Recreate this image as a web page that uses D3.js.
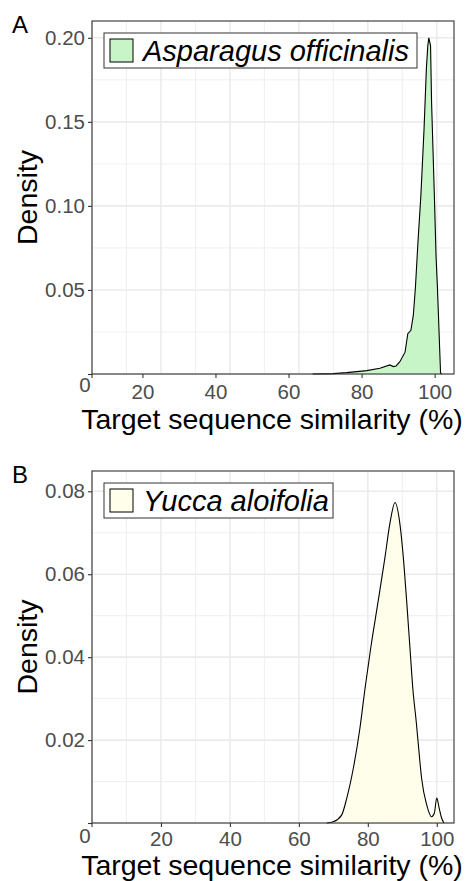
<!DOCTYPE html>
<html>
<head>
<meta charset="utf-8">
<script src="https://cdn.jsdelivr.net/npm/d3@7"></script>
<style>
  body { margin: 0; background: #fff; }
  text { font-family: "Liberation Sans", Arial, sans-serif; }
</style>
</head>
<body>
<svg id="fig" width="471" height="881"></svg>
<script>
// Density curve of panel A (Asparagus officinalis)
var asparagusX = [0, 64, 69.9, 73.9, 79.7, 83.5, 86.4, 87.4, 88.2, 89.3, 90.8, 91.6, 92.5, 93.2, 93.8, 94.5, 95.4, 96.3, 97.0, 97.4, 97.7, 98.2, 98.5, 99.3, 99.8, 100.2, 101.1, 101.4];
var asparagusDensity = [0, 0, 0.0002, 0.0008, 0.002, 0.0034, 0.0054, 0.0044, 0.0048, 0.0073, 0.013, 0.024, 0.026, 0.035, 0.0512, 0.0768, 0.1065, 0.1452, 0.1821, 0.1952, 0.2, 0.1952, 0.1613, 0.1065, 0.0696, 0.0512, 0.0006, 0];

// Density curve of panel B (Yucca aloifolia)
var yuccaX = [0, 68.1, 70.0, 72.4, 73.9, 75.8, 77.7, 79.2, 80.9, 83.0, 85.0, 86.4, 87.9, 89.3, 90.6, 91.4, 92.2, 93.1, 94.1, 94.7, 95.6, 97.1, 98.5, 99.3, 100.0, 100.7, 101.4, 102.1];
var yuccaDensity = [0, 0, 0.0003, 0.0019, 0.006, 0.0132, 0.0228, 0.0325, 0.0425, 0.0535, 0.0642, 0.0722, 0.0773, 0.0722, 0.061, 0.052, 0.0425, 0.032, 0.024, 0.0185, 0.0108, 0.0043, 0.0015, 0.0024, 0.006, 0.0036, 0.0012, 0];

// Tick labels
var xTicks = [20, 40, 60, 80, 100];
var yTicksA = [0.05, 0.10, 0.15, 0.20];
var yTicksB = [0.02, 0.04, 0.06, 0.08];

var svg = d3.select("#fig");

var left = 92, right = 454;
var tickFont = 20.5, titleFont = 28.5;

function drawPanel(o) {
  var x = d3.scaleLinear().domain([0, 105]).range([left, right]);
  var y = d3.scaleLinear().domain([0, o.yMax]).range([o.bottom, o.top]);
  var g = svg.append("g");

  // grid: minor then major
  var ys = o.yTicks[1] - o.yTicks[0];
  var yMinor = d3.range(ys / 2, o.yMax, ys);
  var yMajor = d3.range(0, o.yMax + 1e-9, ys);
  var xMinor = d3.range(10, 105, 20);
  var xMajor = [0].concat(xTicks);

  g.selectAll(".ymin").data(yMinor).enter().append("line")
    .attr("x1", left).attr("x2", right)
    .attr("y1", d => y(d)).attr("y2", d => y(d))
    .attr("stroke", "#ebebeb").attr("stroke-width", 0.8);
  g.selectAll(".xmin").data(xMinor).enter().append("line")
    .attr("x1", d => x(d)).attr("x2", d => x(d))
    .attr("y1", o.top).attr("y2", o.bottom)
    .attr("stroke", "#ebebeb").attr("stroke-width", 0.8);
  g.selectAll(".ymaj").data(yMajor).enter().append("line")
    .attr("x1", left).attr("x2", right)
    .attr("y1", d => y(d)).attr("y2", d => y(d))
    .attr("stroke", "#ebebeb").attr("stroke-width", 1.6);
  g.selectAll(".xmaj").data(xMajor).enter().append("line")
    .attr("x1", d => x(d)).attr("x2", d => x(d))
    .attr("y1", o.top).attr("y2", o.bottom)
    .attr("stroke", "#ebebeb").attr("stroke-width", 1.6);

  // density area + outline
  var pts = o.xs.map((v, i) => [v, o.ds[i]]);
  var area = d3.area()
    .x(d => x(d[0])).y0(y(0)).y1(d => y(d[1]))
    .curve(o.curve);
  var line = d3.line()
    .x(d => x(d[0])).y(d => y(d[1]))
    .curve(o.curve);
  g.append("path").attr("d", area(pts)).attr("fill", o.fill);
  g.append("path").attr("d", line(pts.slice(1))).attr("fill", "none")
    .attr("stroke", "#000").attr("stroke-width", 1.1);

  // panel border
  g.append("rect")
    .attr("x", left).attr("y", o.top)
    .attr("width", right - left).attr("height", o.bottom - o.top)
    .attr("fill", "none").attr("stroke", "#333").attr("stroke-width", 1.1);

  // y axis
  var yAxis = g.append("g")
    .attr("transform", "translate(" + left + ",0)")
    .call(d3.axisLeft(y).tickValues([0].concat(o.yTicks)).tickSize(4).tickPadding(3)
      .tickFormat(d => d === 0 ? "" : d3.format(".2f")(d)));
  yAxis.select(".domain").remove();
  yAxis.selectAll("line").attr("stroke", "#333").attr("stroke-width", 1.1);
  yAxis.selectAll("text").attr("font-size", tickFont).attr("fill", "#4d4d4d")
    .style("font-family", "Liberation Sans, Arial, sans-serif");

  // x axis (label positions follow the original figure)
  var xLab = d3.scaleLinear().domain(o.labDomain).range([left, right]);
  var xAxis = g.append("g")
    .attr("transform", "translate(0," + o.bottom + ")")
    .call(d3.axisBottom(xLab).tickValues(xTicks).tickSize(4).tickPadding(o.xPad));
  xAxis.select(".domain").remove();
  xAxis.selectAll("line").attr("stroke", "#333").attr("stroke-width", 1.1);
  xAxis.selectAll("text").attr("font-size", tickFont).attr("fill", "#4d4d4d")
    .style("font-family", "Liberation Sans, Arial, sans-serif");
  xAxis.append("line").attr("x1", left).attr("x2", left).attr("y1", 0).attr("y2", 4)
    .attr("stroke", "#333").attr("stroke-width", 1.1);
  g.append("text")
    .attr("x", 85).attr("y", o.bottom + o.zeroDy)
    .attr("text-anchor", "middle").attr("font-size", tickFont).attr("fill", "#4d4d4d")
    .text("0");

  // axis titles
  g.append("text")
    .attr("x", (left + right) / 2 - 1).attr("y", o.bottom + o.titleDy)
    .attr("text-anchor", "middle").attr("font-size", titleFont)
    .text("Target sequence similarity (%)");
  g.append("text")
    .attr("transform", "translate(37," + (o.top + o.bottom) / 2 + ") rotate(-90)")
    .attr("text-anchor", "middle").attr("font-size", titleFont)
    .text("Density");

  // panel letter
  g.append("text").attr("x", 12).attr("y", o.top + 12)
    .attr("font-size", 24).text(o.letter);

  // legend
  var lg = g.append("g").attr("transform", "translate(104," + (o.top + 12) + ")");
  lg.append("rect").attr("width", o.legendW).attr("height", 35)
    .attr("fill", "#fff").attr("stroke", "#333").attr("stroke-width", 1);
  lg.append("rect").attr("x", 6).attr("y", 6).attr("width", 23).attr("height", 23)
    .attr("fill", o.fill).attr("stroke", "#000").attr("stroke-width", 1);
  lg.append("text").attr("x", 39).attr("y", 28)
    .attr("font-size", 29).attr("font-style", "italic")
    .text(o.name);
}

drawPanel({
  letter: "A", name: "Asparagus officinalis",
  xs: asparagusX, ds: asparagusDensity, yTicks: yTicksA,
  top: 21, bottom: 374, yMax: 0.21, fill: "#c8f5c8",
  curve: d3.curveLinear, labDomain: [6.2, 105.3], xPad: 6, zeroDy: 18, titleDy: 55, legendW: 313
});

drawPanel({
  letter: "B", name: "Yucca aloifolia",
  xs: yuccaX, ds: yuccaDensity, yTicks: yTicksB,
  top: 471, bottom: 823, yMax: 0.0849, fill: "#fefeea",
  curve: d3.curveMonotoneX, labDomain: [0, 105], xPad: 4, zeroDy: 20, titleDy: 51.5, legendW: 229
});
</script>
</body>
</html>
